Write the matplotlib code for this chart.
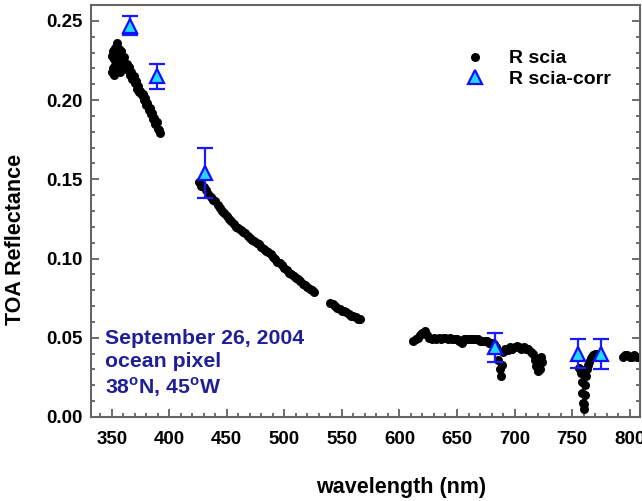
import numpy as np
import matplotlib
matplotlib.use("Agg")
import matplotlib.pyplot as plt
from matplotlib.ticker import MultipleLocator

plt.rcParams['font.family'] = ['Liberation Sans', 'DejaVu Sans']
plt.rcParams['font.weight'] = 'bold'
plt.rcParams['mathtext.fontset'] = 'custom'
plt.rcParams['mathtext.bf'] = 'Liberation Sans:bold'
plt.rcParams['mathtext.rm'] = 'Liberation Sans:bold'

# R scia spectrum (nm, reflectance)
wl_uv = [350, 350, 351, 351, 352, 352, 353, 353, 354, 354, 355, 355, 356, 356,
         357, 357, 358, 359, 360, 361, 362, 363, 364, 365, 366, 367, 368, 369,
         370, 371, 372, 373, 374, 375, 376, 377, 378, 379, 380, 381, 382, 383,
         384, 385, 386, 387, 388, 389, 390, 391, 392]
r_uv = [0.228, 0.218, 0.231, 0.220, 0.226, 0.216, 0.233, 0.222, 0.229, 0.219,
        0.236, 0.224, 0.232, 0.221, 0.228, 0.218, 0.231, 0.226, 0.224, 0.227,
        0.221, 0.223, 0.219, 0.221, 0.216, 0.218, 0.213, 0.215, 0.211, 0.212,
        0.207, 0.209, 0.205, 0.206, 0.203, 0.204, 0.200, 0.201, 0.197, 0.198,
        0.194, 0.195, 0.191, 0.192, 0.188, 0.189, 0.185, 0.186, 0.182, 0.181,
        0.179]

wl_blue = [426, 428, 430, 432, 434, 436, 438, 440, 442, 444, 446, 448, 450,
           452, 454, 456, 458, 460, 462, 464, 466, 468, 470, 472, 474, 476,
           478, 480, 482, 484, 486, 488, 490, 492, 494, 496, 498, 500, 502,
           504, 506, 508, 510, 512, 514, 516, 518, 520, 522, 524, 526]
r_blue = [0.148, 0.146, 0.145, 0.143, 0.141, 0.139, 0.137, 0.136, 0.134, 0.132,
          0.130, 0.129, 0.127, 0.125, 0.124, 0.122, 0.120, 0.119, 0.118, 0.117,
          0.116, 0.114, 0.113, 0.112, 0.111, 0.110, 0.109, 0.107, 0.106, 0.105,
          0.104, 0.103, 0.101, 0.100, 0.098, 0.097, 0.096, 0.094, 0.093, 0.091,
          0.090, 0.089, 0.088, 0.087, 0.086, 0.084, 0.083, 0.082, 0.081, 0.080,
          0.079]

wl_green = [540, 542, 544, 546, 548, 550, 552, 554, 556, 558, 560, 562, 564, 566]
r_green = [0.072, 0.071, 0.070, 0.069, 0.068, 0.067, 0.067, 0.066, 0.065,
           0.064, 0.064, 0.063, 0.062, 0.062]

wl_red = [612, 614, 616, 618, 620, 622, 624, 626, 628, 630, 632, 634, 636, 638,
          640, 642, 644, 646, 648, 650, 652, 654, 656, 658, 660, 662, 664, 666,
          668, 670, 672, 674, 676, 678, 680, 682, 684, 686, 687, 688, 689, 690,
          692, 694, 696, 698, 700, 702, 704, 706, 708, 710, 712, 714, 716, 718,
          719, 720, 721, 722, 723, 724]
r_red = [0.048, 0.049, 0.050, 0.052, 0.053, 0.054, 0.052, 0.050, 0.049, 0.050,
         0.049, 0.050, 0.049, 0.050, 0.050, 0.049, 0.050, 0.049, 0.049, 0.049,
         0.048, 0.047, 0.049, 0.049, 0.049, 0.049, 0.049, 0.049, 0.049, 0.048,
         0.048, 0.048, 0.048, 0.047, 0.047, 0.046, 0.044, 0.036, 0.030, 0.026,
         0.033, 0.041, 0.043, 0.042, 0.044, 0.043, 0.044, 0.045, 0.044, 0.043,
         0.044, 0.043, 0.043, 0.041, 0.040, 0.036, 0.032, 0.029, 0.034, 0.030,
         0.038, 0.035]

wl_nir = [756, 757, 758, 758.5, 759, 759.5, 760, 760.5, 761, 761.5, 762, 763,
          764, 765, 766, 767, 768, 770, 771, 794, 796, 798, 800, 802, 804, 806,
          808]
r_nir = [0.031, 0.030, 0.028, 0.022, 0.015, 0.009, 0.005, 0.008, 0.014, 0.020,
         0.026, 0.030, 0.033, 0.035, 0.037, 0.038, 0.039, 0.040, 0.040, 0.038,
         0.039, 0.039, 0.038, 0.038, 0.039, 0.038, 0.038]

# R scia-corr with error bars
wl_corr = [366, 389, 431, 683, 755, 775]
r_corr = [0.247, 0.215, 0.154, 0.044, 0.040, 0.040]
err_corr = [0.006, 0.0078, 0.016, 0.0093, 0.009, 0.0095]

xticks = [350, 400, 450, 500, 550, 600, 650, 700, 750, 800]
yticks = [0.00, 0.05, 0.10, 0.15, 0.20, 0.25]

wl_scia = np.concatenate([wl_uv, wl_blue, wl_green, wl_red, wl_nir])
r_scia = np.concatenate([r_uv, r_blue, r_green, r_red, r_nir])

fig = plt.figure(figsize=(6.42, 5.01), dpi=100)
ax = fig.add_axes([0.1417, 0.1677, 0.8552, 0.8223])

ax.plot(wl_scia, r_scia, 'o', color='black', ms=6.5, mew=0, label='R scia', zorder=2)
ax.errorbar(wl_corr, r_corr, yerr=err_corr, fmt='none', ecolor='#1a1aff',
            elinewidth=1.6, capsize=6, capthick=1.6, zorder=3)
ax.plot(wl_corr, r_corr, '^', ms=10, mfc='#22d8ff', mec='#1010ff', mew=1.6,
        ls='none', label='R scia-corr', zorder=4)

ax.set_xlim(332, 809)
ax.set_ylim(0, 0.26)
ax.set_xticks(xticks)
ax.set_yticks(yticks)
ax.set_yticklabels([f'{v:.2f}' for v in yticks])
ax.xaxis.set_minor_locator(MultipleLocator(10))
ax.yaxis.set_minor_locator(MultipleLocator(0.01))
ax.tick_params(which='both', direction='in', top=False, right=True,
               labelsize=13.5, color='#555555', width=1.2)
ax.tick_params(which='major', length=6)
ax.tick_params(which='minor', length=3)
ax.tick_params(axis='x', which='major', pad=10)
ax.tick_params(axis='y', which='major', pad=6)
for s in ax.spines.values():
    s.set_color('#666666')
    s.set_linewidth(1.5)

ax.set_xlabel('wavelength (nm)', fontsize=15.5, fontweight='bold')
ax.set_ylabel('TOA Reflectance', fontsize=15.5, fontweight='bold')
ax.xaxis.set_label_coords(0.565, -0.145)
ax.yaxis.set_label_coords(-0.118, 0.432)

ax.legend(loc='upper left', bbox_to_anchor=(0.655, 0.915), frameon=False,
          fontsize=14, handletextpad=1.0, borderpad=0, labelspacing=0.15,
          handlelength=1.5)

ax.text(0.026, 0.214, 'September 26, 2004\nocean pixel\n38$^{\\mathbf{o}}$N, 45$^{\\mathbf{o}}$W',
        transform=ax.transAxes, ha='left', va='top', fontsize=15.3,
        fontweight='bold', color='#1f1f99', linespacing=1.25)

fig.savefig('out.png', dpi=100)
